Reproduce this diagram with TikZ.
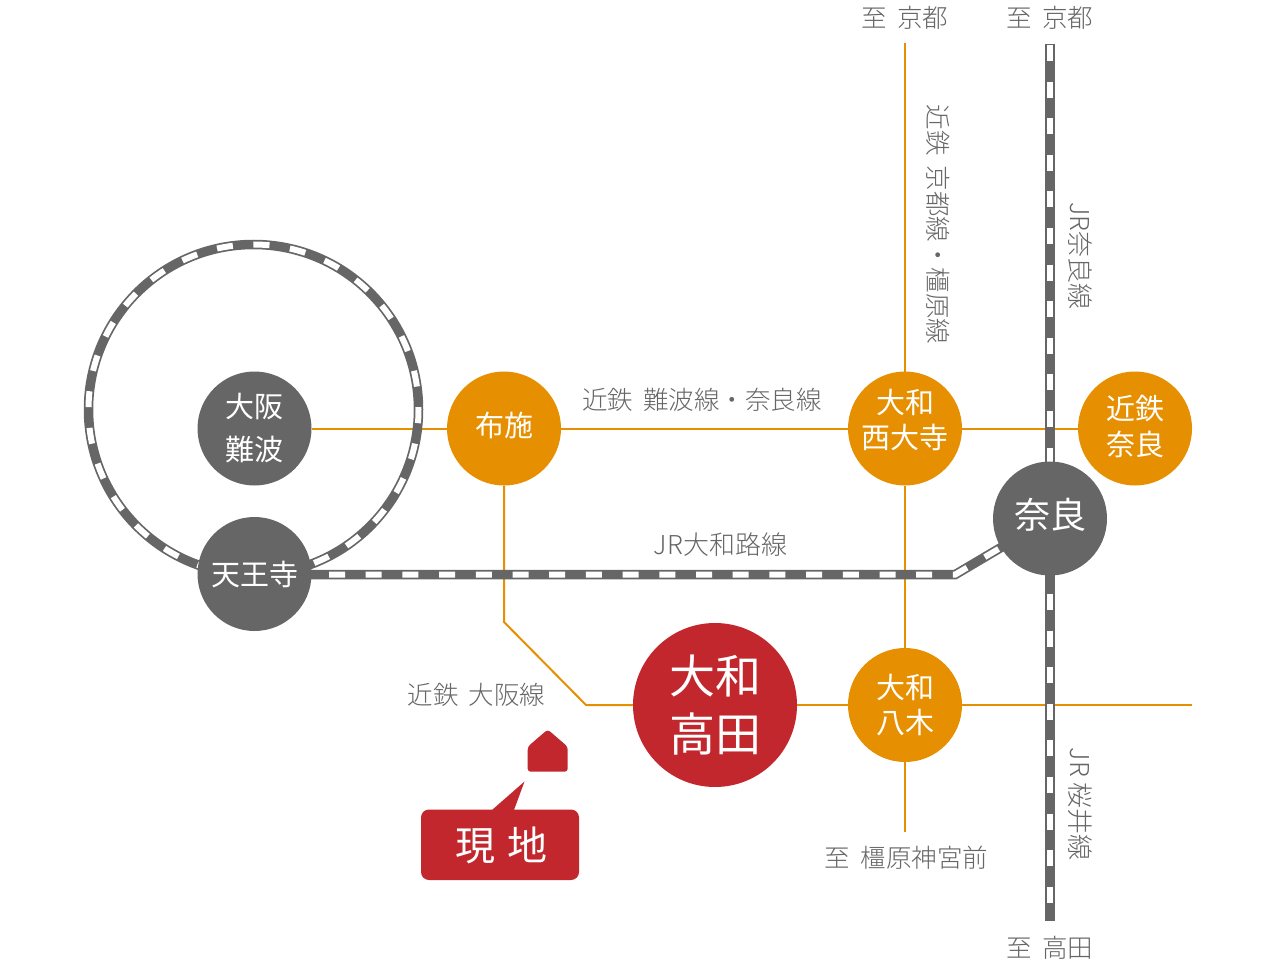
\documentclass[tikz,border=0pt]{standalone}
\usepackage{fontspec}
\setmainfont{Noto Sans CJK JP}
\newfontfamily\lightf{Noto Sans CJK JP Light}
\definecolor{jr}{HTML}{666666}
\definecolor{kin}{HTML}{E68F00}
\definecolor{red}{HTML}{C1272D}
\pgfdeclarelayer{orangelayer}
\pgfdeclarelayer{raillayer}
\pgfsetlayers{orangelayer,raillayer,main}
\newcommand{\gp}{\hspace{.4em}}
\tikzset{
  stn/.style={circle,minimum size=114pt,inner sep=0pt,outer sep=0pt,text=white,align=center},
  gstn/.style={stn,fill=jr},
  ostn/.style={stn,fill=kin},
  lbl/.style={text=jr,inner sep=0pt,font=\lightf\fontsize{25.5}{30}\selectfont},
  jrlbl/.style={text=jr,inner sep=0pt,font=\lightf\fontsize{26}{30}\selectfont},
  kline/.style={draw=kin,line width=2pt},
  rail/.style={draw=jr,line width=9.5pt,postaction={draw=white,line width=6pt,dash pattern=on 16pt off 20.7pt,dash phase=#1}},
  vrail/.style={draw=jr,line width=9.5pt,postaction={draw=white,line width=6pt,dash pattern=on 16pt off 20.6pt,dash phase=#1}},
}
\begin{document}
\begin{tikzpicture}[x=1pt,y=-1pt]
\useasboundingbox (0,0) rectangle (1280,968);
% stations
\node[gstn,font=\fontsize{29}{43}\selectfont] (namba) at (254.5,428.5) {大阪\\難波};
\node[gstn,font=\fontsize{29}{35}\selectfont] (tennoji) at (254.5,574) {天王寺};
\node[ostn,font=\fontsize{29}{35}\selectfont,text depth=8pt] (fuse) at (504,428.5) {布施};
\node[ostn,font=\fontsize{29}{35}\selectfont,text depth=20pt,inner sep=-6pt] (saidaiji) at (905,428.5) {大和\\西大寺};
\node[ostn,font=\fontsize{29}{36}\selectfont,text depth=6pt] (knara) at (1135,428.5) {近鉄\\奈良};
\node[gstn,font=\fontsize{36}{40}\selectfont,text depth=10pt] (nara) at (1050,518.5) {奈良};
\node[ostn,font=\fontsize{29}{35}\selectfont] (yagi) at (905,705) {大和\\八木};
\node[stn,fill=red,minimum size=164pt,font=\fontsize{46}{58}\selectfont] (takada) at (715,705) {大和\\高田};
% free ends
\coordinate (kyotoK) at (905,43);
\coordinate (kashi) at (905,832);
\coordinate (eastend) at (1192,705);
\coordinate (bendA) at (504,622);
\coordinate (bendB) at (586,705);
\coordinate (railW) at (292.3,574.7);
\coordinate (railB) at (955,574.7);
\coordinate (kyotoJ) at (1049.8,44);
\coordinate (takadaJ) at (1049.8,921);
\begin{pgfonlayer}{orangelayer}
\draw[kline] (namba) -- (fuse);
\draw[kline] (fuse) -- (saidaiji);
\draw[kline] (saidaiji) -- (knara);
\draw[kline] (kyotoK) -- (saidaiji);
\draw[kline] (saidaiji) -- (yagi);
\draw[kline] (yagi) -- (kashi);
\draw[kline] (takada) -- (yagi);
\draw[kline] (yagi) -- (eastend);
\draw[kline] (fuse.south) -- (bendA) -- (bendB) -- (takada.west);
\end{pgfonlayer}
\begin{pgfonlayer}{raillayer}
\path[rail=32.1pt] (253.5,574.5) arc[start angle=90,end angle=450,radius=165];
\path[rail=0pt] (railW) -- (railB) -- (nara.center);
\path[vrail=35.6pt] (kyotoJ) -- (takadaJ);
\end{pgfonlayer}
% house and callout
\fill[red,rounded corners=3pt] (527.7,771.7) -- (527.7,746.7) -- (547.7,729.5) -- (567.7,746.7) -- (567.7,771.7) -- cycle;
\fill[red,rounded corners=8pt] (421,809.5) rectangle (579,880);
\fill[red] (492,810) -- (524.5,781.5) -- (514,810) -- cycle;
\node[text=white,inner sep=0pt,font=\fontsize{40}{44}\selectfont] (genchi) at (501,845) {現\hspace{.3em}地};
% labels
\node[lbl] (t1) at (905,17.5) {至\gp 京都};
\node[lbl] (t2) at (1050,17.5) {至\gp 京都};
\node[lbl] (t3) at (1050,947.5) {至\gp 高田};
\node[lbl] (t4) at (906.5,857.5) {至\gp 橿原神宮前};
\node[lbl] (t5) at (702,399.5) {近鉄\gp 難波線・奈良線};
\node[jrlbl] (t6) at (720.5,544.5) {JR大和路線};
\node[lbl] (t7) at (476.5,694.5) {近鉄\gp 大阪線};
\node[lbl,rotate=-90] (t8) at (938,224.5) {近鉄\gp 京都線・橿原線};
\node[jrlbl,rotate=-90] (t9) at (1080,256) {JR奈良線};
\node[jrlbl,rotate=-90] (t10) at (1080,804) {JR\hspace{.2em}桜井線};
\end{tikzpicture}
\end{document}
